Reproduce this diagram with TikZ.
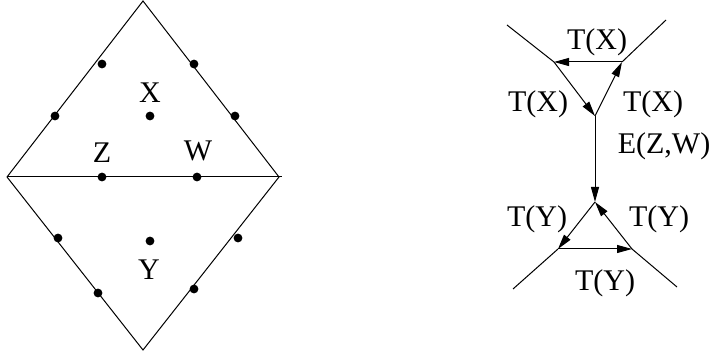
\documentclass[tikz,border=0pt]{standalone}
\usepackage{fontspec}
\setmainfont{Liberation Serif}
\usetikzlibrary{arrows.meta}
\begin{document}
\begin{tikzpicture}[x=0.5pt,y=-0.5pt,
  edge/.style={line width=0.5pt},
  arr/.style={line width=0.5pt,-{Triangle[length=7.5pt,width=4pt]}},
  pt/.style={circle,fill,inner sep=0pt,minimum size=4.4pt},
  lbl/.style={font=\fontsize{15}{18}\selectfont,inner sep=0pt}]
\useasboundingbox (0,0) rectangle (712,356);
% left figure
\coordinate (T) at (143,1);
\coordinate (L) at (7,177);
\coordinate (R) at (279,177);
\coordinate (B) at (143,350);
\coordinate (Rt) at (282,177);
\draw[edge] (L) -- (T) -- (R) -- (B) -- (L);
\draw[edge] (L) -- (Rt);
\node[pt] (p1) at (102,64) {};
\node[pt] (p2) at (55,116) {};
\node[pt] (p3) at (194,64) {};
\node[pt] (p4) at (235,116) {};
\node[pt] (px) at (150,116) {};
\node[pt] (pz) at (102,177) {};
\node[pt] (pw) at (197,177) {};
\node[pt] (p5) at (58,238) {};
\node[pt] (p6) at (98,293) {};
\node[pt] (p7) at (238,238) {};
\node[pt] (p8) at (194,289) {};
\node[pt] (py) at (150,241) {};
\node[lbl] (lx) at (150,93) {X};
\node[lbl] (lz) at (102,153) {Z};
\node[lbl] (lw) at (198,151) {W};
\node[lbl] (ly) at (149,270) {Y};
% right figure
\coordinate (a1) at (507,25);
\coordinate (a2) at (554,62);
\coordinate (a3) at (622,62);
\coordinate (a4) at (666,20);
\coordinate (j) at (595,116);
\coordinate (b0) at (595,202);
\coordinate (b1) at (558,249);
\coordinate (b2) at (632,249);
\coordinate (b3) at (513,289);
\coordinate (b4) at (677,287);
\draw[edge] (a1) -- (a2);
\draw[edge] (a4) -- (a3);
\draw[arr] (a3) -- (a2);
\draw[arr] (a2) -- (j);
\draw[arr] (j) -- (a3);
\draw[arr] (j) -- (b0);
\draw[arr] (b0) -- (b1);
\draw[arr] (b1) -- (b2);
\draw[arr] (b2) -- (b0);
\draw[edge] (b1) -- (b3);
\draw[edge] (b2) -- (b4);
\node[lbl] (t1) at (597,42) {T(X)};
\node[lbl] (t2) at (538,104) {T(X)};
\node[lbl] (t3) at (653,104) {T(X)};
\node[lbl] (e) at (664,146) {E(Z,W)};
\node[lbl] (t4) at (537,219) {T(Y)};
\node[lbl] (t5) at (659,219) {T(Y)};
\node[lbl] (t6) at (605,283) {T(Y)};
\end{tikzpicture}
\end{document}
